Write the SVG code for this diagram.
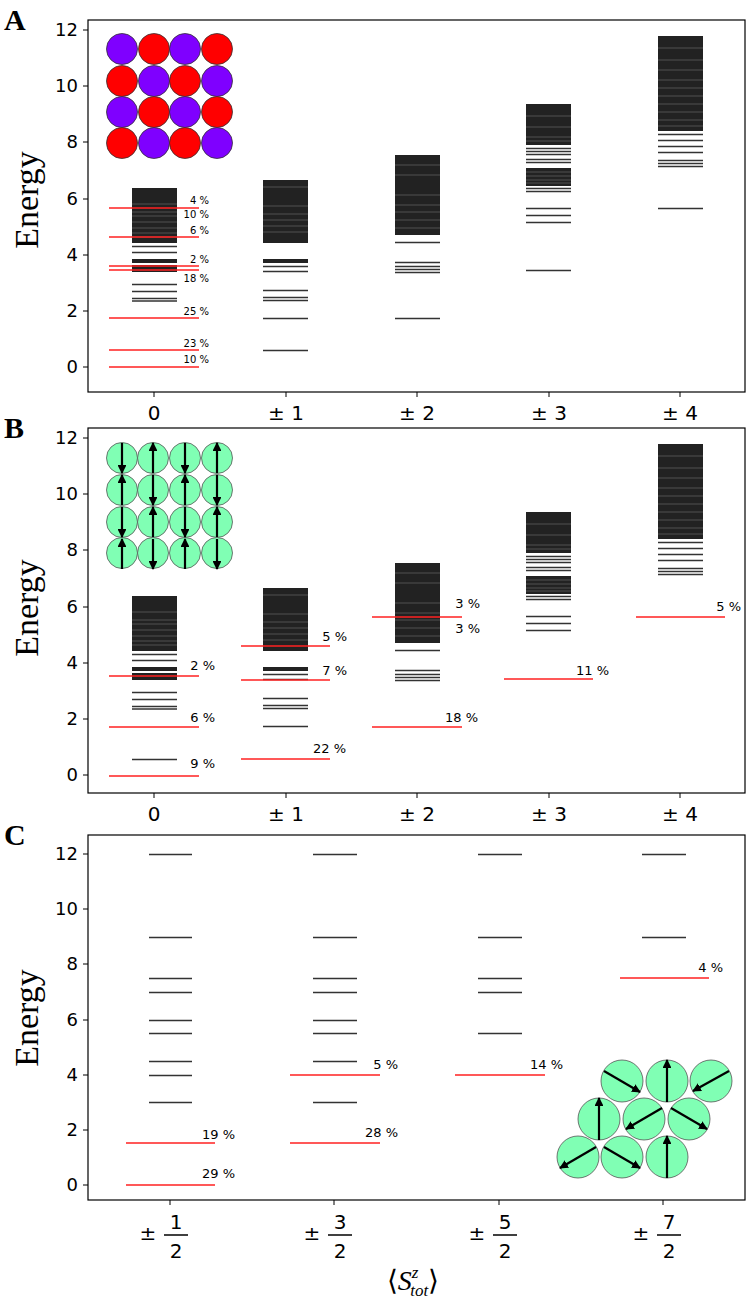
<svg xmlns="http://www.w3.org/2000/svg" width="747" height="1301" viewBox="0 0 747 1301">
<style>
.frame{fill:none;stroke:#000;stroke-width:1.2}
.tk{stroke:#000;stroke-width:1}
.lv{stroke:#333;stroke-width:1.5;fill:none}
.blk{fill:#222}
.gap{stroke:#fff;stroke-width:0.7;opacity:0.3}
.red{stroke:#f22;stroke-width:1.4}
.yl{font-family:"DejaVu Sans",sans-serif;font-size:18px;text-anchor:end}
.xl{font-family:"DejaVu Sans",sans-serif;font-size:20px;text-anchor:middle}
.pa{font-family:"DejaVu Sans",sans-serif;font-size:10px;text-anchor:end}
.pb{font-family:"DejaVu Sans",sans-serif;font-size:13px;text-anchor:end}
.en{font-family:"Liberation Serif",serif;font-size:34px;text-anchor:middle}
.let{font-family:"Liberation Serif",serif;font-size:30px;font-weight:bold}
.pu{fill:#7f00ff;stroke:#333;stroke-width:0.8}
.rd{fill:#f00;stroke:#333;stroke-width:0.8}
.gr{fill:#80ffb4;stroke:#555;stroke-width:0.8}
.ar{stroke:#000;stroke-width:2.2;marker-end:url(#ah)}
</style>
<defs>
<marker id="ah" viewBox="0 0 10 10" refX="9" refY="5" markerWidth="4" markerHeight="4" orient="auto"><path d="M0,0 L10,5 L0,10 z" fill="#000"/></marker>
<g id="stack0">
<rect class="blk" x="132" y="188" width="45" height="55"/>
<path class="gap" d="M132 204h45M132 212h45M132 216h45M132 222h45M132 228h45M132 233h45M132 237h45"/>
<path class="lv" d="M132 246.5h45M132 252.5h45"/>
<rect class="blk" x="132" y="259" width="45" height="4"/>
<rect class="blk" x="132" y="265" width="45" height="7"/>
<path class="lv" d="M132 284.5h45M132 291.5h45M132 298.5h45M132 301h45"/>
</g>
<g id="stack1">
<rect class="blk" x="263" y="180" width="45" height="63"/>
<path class="gap" d="M263 187h45M263 206h45M263 214h45M263 220h45M263 226h45M263 232h45"/>
<rect class="blk" x="263" y="259" width="45" height="4"/>
<path class="lv" d="M263 266.5h45M263 271.5h45M263 290.5h45M263 297.5h45M263 300.5h45"/>
</g>
<g id="stack2">
<rect class="blk" x="395" y="155" width="45" height="80"/>
<path class="gap" d="M395 165h45M395 175h45M395 195h45M395 205h45M395 212h45M395 220h45M395 228h45"/>
<path class="lv" d="M395 242.5h45M395 262.5h45M395 266.5h45M395 269.5h45M395 272.5h45"/>
</g>
<g id="stack3">
<rect class="blk" x="526" y="104" width="45" height="41"/>
<path class="gap" d="M526 116h45M526 127h45M526 137h45M526 141h45"/>
<path class="lv" d="M526 148.5h45M526 151.5h45M526 154.5h45M526 159.5h45M526 162.5h45"/>
<rect class="blk" x="526" y="168" width="45" height="18"/>
<path class="gap" d="M526 172h45M526 176h45M526 180h45M526 183h45"/>
<path class="lv" d="M526 188.5h45M526 191.5h45M526 208.5h45M526 215.5h45M526 222.5h45"/>
</g>
<g id="stack4">
<rect class="blk" x="658" y="36" width="45" height="95"/>
<path class="gap" d="M658 48h45M658 60h45M658 70h45M658 80h45M658 88h45M658 96h45M658 104h45M658 112h45M658 120h45M658 126h45"/>
<path class="lv" d="M658 134.5h45M658 140.5h45M658 146.5h45M658 152.5h45M658 160.5h45M658 163.5h45M658 166.5h45"/>
</g>
</defs>
<rect width="747" height="1301" fill="#fff"/>

<g id="panelA">
<rect class="frame" x="88" y="20" width="657" height="372"/>
<text class="let" x="4" y="30">A</text>
<text class="en" transform="translate(38,200) rotate(-90)">Energy</text>
<g class="tk"><path d="M83 367h5M83 311h5M83 255h5M83 199h5M83 142h5M83 86h5M83 30h5M154 392v5M286 392v5M417 392v5M549 392v5M680 392v5"/></g>
<g class="yl"><text x="78" y="373">0</text><text x="78" y="317">2</text><text x="78" y="261">4</text><text x="78" y="205">6</text><text x="78" y="148">8</text><text x="78" y="92">10</text><text x="78" y="36">12</text></g>
<g class="xl"><text x="154" y="420">0</text><text x="286" y="420">± 1</text><text x="417" y="420">± 2</text><text x="549" y="420">± 3</text><text x="680" y="420">± 4</text></g>
<g id="insetA">
<circle class="pu" cx="122" cy="49" r="15.5"/><circle class="rd" cx="154" cy="49" r="15.5"/><circle class="pu" cx="185" cy="49" r="15.5"/><circle class="rd" cx="217" cy="49" r="15.5"/>
<circle class="rd" cx="122" cy="81" r="15.5"/><circle class="pu" cx="154" cy="81" r="15.5"/><circle class="rd" cx="185" cy="81" r="15.5"/><circle class="pu" cx="217" cy="81" r="15.5"/>
<circle class="pu" cx="122" cy="112" r="15.5"/><circle class="rd" cx="154" cy="112" r="15.5"/><circle class="pu" cx="185" cy="112" r="15.5"/><circle class="rd" cx="217" cy="112" r="15.5"/>
<circle class="rd" cx="122" cy="143" r="15.5"/><circle class="pu" cx="154" cy="143" r="15.5"/><circle class="rd" cx="185" cy="143" r="15.5"/><circle class="pu" cx="217" cy="143" r="15.5"/>
</g>
<g id="levelsA">
<use href="#stack0"/><use href="#stack1"/><use href="#stack2"/><use href="#stack3"/><use href="#stack4"/>
<path class="lv" d="M263 318.5h45M263 350.5h45M395 318.5h45M526 270.5h45M658 208.5h45"/>
</g>
<g id="redA">
<path class="red" d="M109 208h90M109 237h90M109 266h90M109 270h90M109 318h90M109 350h90M109 367h90"/>
<g class="pa"><text x="209" y="204">4 %</text><text x="209" y="218">10 %</text><text x="209" y="234">6 %</text><text x="209" y="263">2 %</text><text x="209" y="282">18 %</text><text x="209" y="315">25 %</text><text x="209" y="347">23 %</text><text x="209" y="363">10 %</text></g>
</g>
</g>

<g id="panelB">
<rect class="frame" x="88" y="428" width="657" height="365"/>
<text class="let" x="4" y="438">B</text>
<text class="en" transform="translate(38,608) rotate(-90)">Energy</text>
<g class="tk"><path d="M83 775h5M83 719h5M83 663h5M83 607h5M83 550h5M83 494h5M83 438h5M154 793v5M286 793v5M417 793v5M549 793v5M680 793v5"/></g>
<g class="yl"><text x="78" y="781">0</text><text x="78" y="725">2</text><text x="78" y="669">4</text><text x="78" y="613">6</text><text x="78" y="556">8</text><text x="78" y="500">10</text><text x="78" y="444">12</text></g>
<g class="xl"><text x="154" y="821">0</text><text x="286" y="821">± 1</text><text x="417" y="821">± 2</text><text x="549" y="821">± 3</text><text x="680" y="821">± 4</text></g>
<g id="insetB">
<circle class="gr" cx="122" cy="458" r="15.5"/><circle class="gr" cx="153" cy="458" r="15.5"/><circle class="gr" cx="185" cy="458" r="15.5"/><circle class="gr" cx="217" cy="458" r="15.5"/>
<circle class="gr" cx="122" cy="490" r="15.5"/><circle class="gr" cx="153" cy="490" r="15.5"/><circle class="gr" cx="185" cy="490" r="15.5"/><circle class="gr" cx="217" cy="490" r="15.5"/>
<circle class="gr" cx="122" cy="522" r="15.5"/><circle class="gr" cx="153" cy="522" r="15.5"/><circle class="gr" cx="185" cy="522" r="15.5"/><circle class="gr" cx="217" cy="522" r="15.5"/>
<circle class="gr" cx="122" cy="553" r="15.5"/><circle class="gr" cx="153" cy="553" r="15.5"/><circle class="gr" cx="185" cy="553" r="15.5"/><circle class="gr" cx="217" cy="553" r="15.5"/>
<line class="ar" x1="122" y1="443" x2="122" y2="473"/><line class="ar" x1="153" y1="473" x2="153" y2="443"/><line class="ar" x1="185" y1="443" x2="185" y2="473"/><line class="ar" x1="217" y1="473" x2="217" y2="443"/>
<line class="ar" x1="122" y1="505" x2="122" y2="475"/><line class="ar" x1="153" y1="475" x2="153" y2="505"/><line class="ar" x1="185" y1="505" x2="185" y2="475"/><line class="ar" x1="217" y1="475" x2="217" y2="505"/>
<line class="ar" x1="122" y1="507" x2="122" y2="537"/><line class="ar" x1="153" y1="537" x2="153" y2="507"/><line class="ar" x1="185" y1="507" x2="185" y2="537"/><line class="ar" x1="217" y1="537" x2="217" y2="507"/>
<line class="ar" x1="122" y1="569" x2="122" y2="539"/><line class="ar" x1="153" y1="539" x2="153" y2="569"/><line class="ar" x1="185" y1="569" x2="185" y2="539"/><line class="ar" x1="217" y1="539" x2="217" y2="569"/>
</g>
<g id="levelsB" transform="translate(0,408)">
<use href="#stack0"/><use href="#stack1"/><use href="#stack2"/><use href="#stack3"/><use href="#stack4"/>
<path class="lv" d="M132 351.5h45M263 318.5h45"/>
</g>
<g id="redB">
<path class="red" d="M109 776h90M109 727h90M109 676h90M241 759h89M241 680h89M241 646h89M372 727h90M372 617h90M504 679h89M636 617h89"/>
<g class="pb"><text x="215" y="768">9 %</text><text x="215" y="722">6 %</text><text x="215" y="670">2 %</text><text x="346" y="753">22 %</text><text x="347" y="675">7 %</text><text x="347" y="641">5 %</text><text x="478" y="722">18 %</text><text x="480" y="608">3 %</text><text x="480" y="633">3 %</text><text x="609" y="675">11 %</text><text x="741" y="611">5 %</text></g>
</g>
</g>

<g id="panelC">
<rect class="frame" x="88" y="835" width="657" height="365"/>
<text class="let" x="4" y="845">C</text>
<text class="en" transform="translate(38,1018) rotate(-90)">Energy</text>
<g class="tk"><path d="M83 1185h5M83 1130h5M83 1075h5M83 1020h5M83 964h5M83 909h5M83 854h5M170 1200v5M334 1200v5M499 1200v5M663 1200v5"/></g>
<g class="yl"><text x="78" y="1191">0</text><text x="78" y="1136">2</text><text x="78" y="1081">4</text><text x="78" y="1026">6</text><text x="78" y="970">8</text><text x="78" y="915">10</text><text x="78" y="860">12</text></g>
<g id="xticksC" font-family="DejaVu Sans, sans-serif" font-size="20">
<text x="148" y="1240" text-anchor="middle">±</text><text x="176" y="1229" text-anchor="middle">1</text><line x1="164" y1="1235" x2="188" y2="1235" stroke="#000" stroke-width="1.5"/><text x="176" y="1258" text-anchor="middle">2</text>
<text x="312" y="1240" text-anchor="middle">±</text><text x="340" y="1229" text-anchor="middle">3</text><line x1="328" y1="1235" x2="352" y2="1235" stroke="#000" stroke-width="1.5"/><text x="340" y="1258" text-anchor="middle">2</text>
<text x="477" y="1240" text-anchor="middle">±</text><text x="505" y="1229" text-anchor="middle">5</text><line x1="493" y1="1235" x2="517" y2="1235" stroke="#000" stroke-width="1.5"/><text x="505" y="1258" text-anchor="middle">2</text>
<text x="641" y="1240" text-anchor="middle">±</text><text x="669" y="1229" text-anchor="middle">7</text><line x1="657" y1="1235" x2="681" y2="1235" stroke="#000" stroke-width="1.5"/><text x="669" y="1258" text-anchor="middle">2</text>
</g>
<text x="413" y="1290" text-anchor="middle" font-family="Liberation Serif, serif" font-size="28">⟨<tspan font-style="italic">S</tspan><tspan font-style="italic" font-size="17" dy="-12">z</tspan><tspan font-style="italic" font-size="17" dx="-8" dy="18">tot</tspan><tspan dy="-6">⟩</tspan></text>
<g id="levelsC">
<path class="lv" d="M149 854.5h43M149 937.5h43M149 978.5h43M149 992.5h43M149 1020.5h43M149 1033.5h43M149 1061.5h43M149 1075.5h43M149 1102.5h43"/>
<path class="lv" d="M313 854.5h44M313 937.5h44M313 978.5h44M313 992.5h44M313 1020.5h44M313 1033.5h44M313 1061.5h44M313 1102.5h44"/>
<path class="lv" d="M478 854.5h44M478 937.5h44M478 978.5h44M478 992.5h44M478 1033.5h44"/>
<path class="lv" d="M642 854.5h44M642 937.5h44"/>
</g>
<g id="redC">
<path class="red" d="M126 1143h89M126 1185h89M290 1075h90M290 1143h90M455 1075h90M620 978h89"/>
<g class="pb"><text x="235" y="1139">19 %</text><text x="235" y="1178">29 %</text><text x="398" y="1069">5 %</text><text x="398" y="1137">28 %</text><text x="563" y="1069">14 %</text><text x="723" y="972">4 %</text></g>
</g>
<g id="insetC">
<circle class="gr" cx="622" cy="1081" r="21"/><circle class="gr" cx="667" cy="1081" r="21"/><circle class="gr" cx="711" cy="1081" r="21"/>
<circle class="gr" cx="599" cy="1119" r="21"/><circle class="gr" cx="644" cy="1119" r="21"/><circle class="gr" cx="689" cy="1119" r="21"/>
<circle class="gr" cx="578" cy="1157" r="21"/><circle class="gr" cx="622" cy="1157" r="21"/><circle class="gr" cx="667" cy="1157" r="21"/>
<line class="ar" x1="604" y1="1071" x2="640" y2="1092"/><line class="ar" x1="667" y1="1102" x2="667" y2="1060"/><line class="ar" x1="729" y1="1071" x2="693" y2="1091"/>
<line class="ar" x1="599" y1="1140" x2="599" y2="1098"/><line class="ar" x1="662" y1="1108" x2="626" y2="1129"/><line class="ar" x1="671" y1="1108" x2="707" y2="1129"/>
<line class="ar" x1="596" y1="1147" x2="560" y2="1168"/><line class="ar" x1="604" y1="1147" x2="640" y2="1168"/><line class="ar" x1="667" y1="1178" x2="667" y2="1136"/>
</g>
</g>
</svg>
